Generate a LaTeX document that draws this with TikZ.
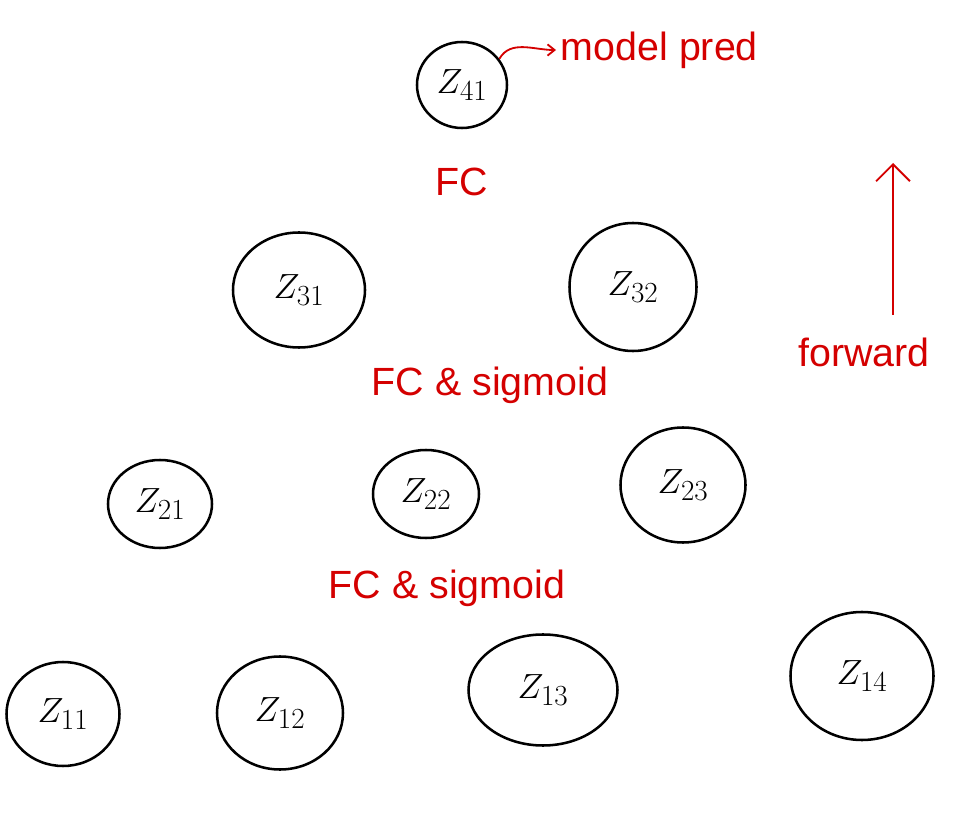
\documentclass[tikz,border=0pt]{standalone}
\usepackage{fontspec}
\setmainfont{Liberation Sans}
\usetikzlibrary{shapes.geometric,arrows.meta}
\definecolor{pen}{HTML}{D40000}
\begin{document}
\begin{tikzpicture}[x=0.025cm,y=-0.025cm,
  zn/.style={draw=black,line width=1.8pt,ellipse,inner sep=0pt,font=\fontsize{28}{30}\selectfont},
  lbl/.style={text=pen,font=\fontsize{28}{32}\selectfont},
  redline/.style={draw=pen,line width=1.3pt}]
\useasboundingbox (0,0) rectangle (975,820);
% layer 4
\node[zn,minimum width=90*0.025cm,minimum height=86*0.025cm] (z41) at (462,85) {$Z_{41}$};
% layer 3
\node[zn,minimum width=132*0.025cm,minimum height=115*0.025cm] (z31) at (299,290) {$Z_{31}$};
\node[zn,minimum width=127*0.025cm,minimum height=128*0.025cm] (z32) at (633,287) {$Z_{32}$};
% layer 2
\node[zn,minimum width=104*0.025cm,minimum height=88*0.025cm] (z21) at (160,504) {$Z_{21}$};
\node[zn,minimum width=106*0.025cm,minimum height=88*0.025cm] (z22) at (426,494) {$Z_{22}$};
\node[zn,minimum width=125*0.025cm,minimum height=115*0.025cm] (z23) at (683,485) {$Z_{23}$};
% layer 1
\node[zn,minimum width=113*0.025cm,minimum height=104*0.025cm] (z11) at (63,714) {$Z_{11}$};
\node[zn,minimum width=126*0.025cm,minimum height=113*0.025cm] (z12) at (280,713) {$Z_{12}$};
\node[zn,minimum width=149*0.025cm,minimum height=111*0.025cm] (z13) at (543,690) {$Z_{13}$};
\node[zn,minimum width=143*0.025cm,minimum height=128*0.025cm] (z14) at (862,676) {$Z_{14}$};
% labels
\node[lbl,anchor=west] (pred) at (556,50) {model pred};
\node[lbl] (fc) at (462,182) {FC};
\node[lbl] (fcs3) at (490,385) {FC \& sigmoid};
\node[lbl] (fcs2) at (447,588) {FC \& sigmoid};
\node[lbl] (fwd) at (864,352) {forward};
\coordinate (fwdtop) at (893,163);
% connectors
\draw[redline,-{Straight Barb[length=5pt,width=8pt]}] (z41.35) to[out=60,in=180] (pred.west);
\draw[redline,-{Straight Barb[length=12pt,width=24pt]}] (fwd.north -| fwdtop) ++(0,-18) -- (fwdtop);
\end{tikzpicture}
\end{document}
